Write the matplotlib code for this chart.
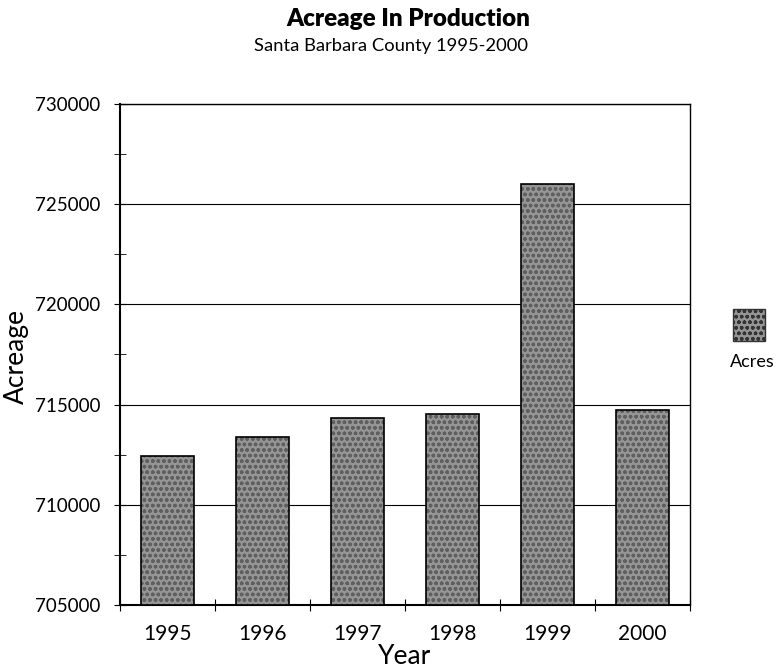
import numpy as np
import matplotlib
matplotlib.use("Agg")
import matplotlib.pyplot as plt
from matplotlib.patches import Rectangle
from matplotlib.ticker import MultipleLocator

# Values
years = ["1995", "1996", "1997", "1998", "1999", "2000"]
acres = [712450, 713400, 714350, 714550, 726000, 714750]
series_name = "Acres"

plt.rcParams['font.family'] = ['Lato', 'DejaVu Sans']

fig = plt.figure(figsize=(7.78, 6.69), dpi=100)
ax = fig.add_axes([0.1542, 0.0957, 0.7326, 0.7489])

x = np.arange(len(years))
base = 705000
heights = [a - base for a in acres]

# textured gray fill, then black outline
ax.bar(x, heights, bottom=base, width=0.56, color="#959595",
       hatch="ooo", edgecolor="#5f5f5f", linewidth=0, zorder=3)
ax.bar(x, heights, bottom=base, width=0.56, fill=False,
       edgecolor="black", linewidth=1.2, zorder=4)

ax.set_xlim(-0.5, len(years) - 0.5)
ax.set_ylim(705000, 730000)
ax.yaxis.set_major_locator(MultipleLocator(5000))
ax.yaxis.set_minor_locator(MultipleLocator(2500))
ax.grid(axis="y", which="major", color="black", linewidth=0.8, zorder=1)

# category ticks sit between the bars, labels at the bar centres
ax.set_xticks(np.arange(len(years) + 1) - 0.5)
ax.set_xticklabels([])
ax.set_xticks(x, minor=True)
ax.set_xticklabels(years, minor=True, fontsize=15)
ax.tick_params(axis="x", which="minor", length=0, pad=14)
ax.tick_params(axis="x", which="major", direction="inout", length=8)
ax.tick_params(axis="y", which="both", direction="inout", length=8, pad=10,
               labelsize=13.5)

for s in ax.spines.values():
    s.set_linewidth(1.0)
ax.spines["left"].set_linewidth(1.5)
ax.spines["bottom"].set_linewidth(1.5)

ax.set_xlabel("Year", fontsize=19, labelpad=0)
fig.text(16 / 778, 1 - 357 / 669, "Acreage", rotation=90, ha="center",
         va="center", fontsize=19)

fig.text(0.525, 0.972, "Acreage In Production", ha="center", va="center",
         fontsize=17.4, fontweight="heavy")
fig.text(0.503, 0.931, "Santa Barbara County 1995-2000", ha="center",
         va="center", fontsize=13.2)

# legend: swatch above the label
fig.patches.append(Rectangle((733 / 778, 1 - 341 / 669), 32 / 778, 32 / 669,
                             transform=fig.transFigure, facecolor="#959595",
                             hatch="ooo", edgecolor="#333333", linewidth=1))
fig.text(752 / 778, 1 - 362 / 669, series_name, ha="center", va="center",
         fontsize=13)

fig.savefig("out.png", dpi=100)
